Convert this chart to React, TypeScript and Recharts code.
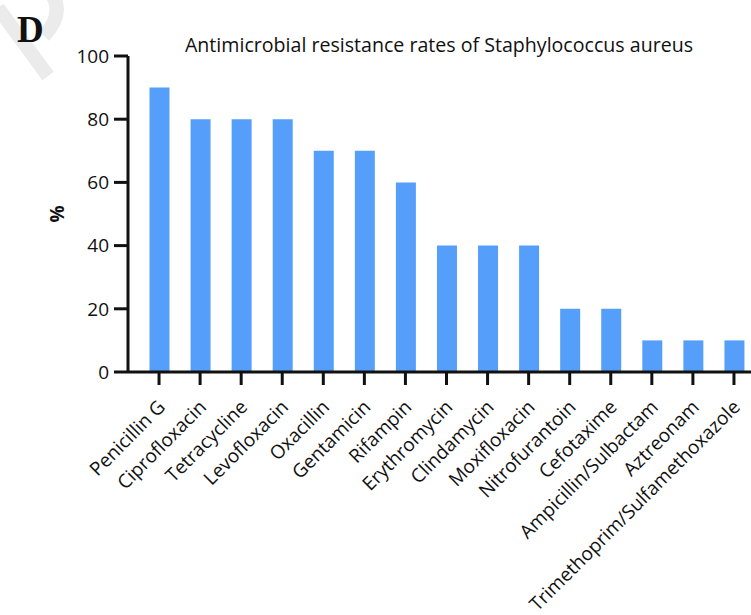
import React from "react";
import { BarChart, Bar, XAxis, YAxis, Customized } from "recharts";

// Antimicrobial agents tested, in order of resistance
const drugs: string[] = [
  "Penicillin G",
  "Ciprofloxacin",
  "Tetracycline",
  "Levofloxacin",
  "Oxacillin",
  "Gentamicin",
  "Rifampin",
  "Erythromycin",
  "Clindamycin",
  "Moxifloxacin",
  "Nitrofurantoin",
  "Cefotaxime",
  "Ampicillin/Sulbactam",
  "Aztreonam",
  "Trimethoprim/Sulfamethoxazole",
];

// Resistance rate (%) for each agent
const resistance: number[] = [90, 80, 80, 80, 70, 70, 60, 40, 40, 40, 20, 20, 10, 10, 10];

const yTicks: number[] = [0, 20, 40, 60, 80, 100];

const data = drugs.map((name, i) => ({ name, rate: resistance[i] }));

const FONT = "'Open Sans', 'Noto Sans', sans-serif";
const BAR = "#559ffb";
const INK = "#111111";

const XTick = (props: any) => {
  const { x, y, payload } = props;
  const ax = x - 4;
  const ay = y + 10;
  return (
    <text
      x={ax}
      y={ay}
      textAnchor="end"
      dominantBaseline="hanging"
      transform={`rotate(-45, ${ax}, ${ay})`}
      fontFamily={FONT}
      fontSize={19}
      fill={INK}
    >
      {payload.value}
    </text>
  );
};

const Decorations = () => (
  <g>
    {/* faint background mark in the corner */}
    <path d="M 50 -8 Q 66 12 44 36" stroke="#ebebeb" strokeWidth={14} fill="none" />
    <path d="M -2 8 L 48 76" stroke="#ebebeb" strokeWidth={14} fill="none" />
    <text x={17} y={42} fontFamily="'Liberation Serif', 'DejaVu Serif', serif" fontWeight="bold" fontSize={37} fill="#111">
      D
    </text>
    <text x={439} y={52} textAnchor="middle" fontFamily={FONT} fontSize={19.6} fill={INK}>
      Antimicrobial resistance rates of Staphylococcus aureus
    </text>
    <text
      x={64}
      y={214}
      textAnchor="middle"
      transform="rotate(-90, 64, 214)"
      fontFamily={FONT}
      fontWeight="bold"
      fontSize={19}
      fill={INK}
    >
      %
    </text>
  </g>
);

export default function App() {
  return (
    <div style={{ position: "absolute", left: 0, top: 0, width: 751, height: 615, overflow: "hidden", background: "#fff" }}>
      <BarChart
        width={760}
        height={615}
        data={data}
        margin={{ top: 56, right: 5.5, bottom: 0, left: 0 }}
        barCategoryGap={0}
      >
        <XAxis
          dataKey="name"
          interval={0}
          padding={{ left: 10.5, right: 0 }}
          height={243}
          tickSize={13}
          stroke={INK}
          strokeWidth={3}
          tickLine={{ stroke: INK, strokeWidth: 3 }}
          tick={<XTick />}
        />
        <YAxis
          width={128}
          domain={[0, 100]}
          ticks={yTicks}
          tickSize={14}
          tickMargin={5}
          stroke={INK}
          strokeWidth={3}
          tickLine={{ stroke: INK, strokeWidth: 3 }}
          tick={{ fill: INK, fontFamily: FONT, fontSize: 19 }}
        />
        <Bar dataKey="rate" fill={BAR} barSize={20} isAnimationActive={false} />
        <Customized component={Decorations} />
      </BarChart>
    </div>
  );
}
